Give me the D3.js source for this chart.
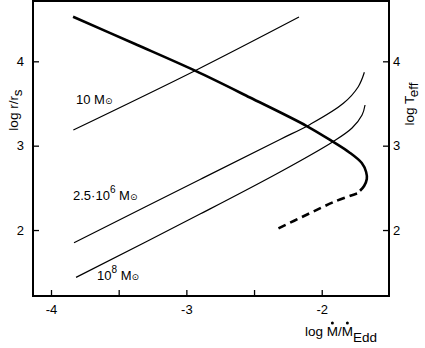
<!DOCTYPE html>
<html>
<head>
<meta charset="utf-8">
<script src="https://cdn.jsdelivr.net/npm/d3@7"></script>
<style>
  body { margin: 0; background: #fff; }
  text { font-family: "Liberation Sans", Arial, "DejaVu Sans", sans-serif; fill: #000; }
</style>
</head>
<body>
<script>
// ticks on the axes
var xTicks = [-4, -3.5, -3, -2.5, -2];
var yTicks = [2, 3, 4];        // log r/rs, left
var tTicks = [2, 3, 4];        // log Teff, right (same places)

// curves, [log Mdot/MdotEdd, log r/rs]
var thick = [[-3.837, 4.529], [-3.387, 4.211], [-2.936, 3.889], [-2.530, 3.571], [-2.111, 3.233],
             [-1.917, 3.047], [-1.798, 2.923], [-1.704, 2.794], [-1.672, 2.688], [-1.667, 2.605],
             [-1.687, 2.522], [-1.717, 2.466]];
var dashed = [[-1.739, 2.433], [-1.90, 2.34], [-2.10, 2.19], [-2.345, 2.000]];
var tenSun = [[-3.835, 3.186], [-2.936, 3.889], [-2.168, 4.525]];
var midMass = [[-3.830, 1.849], [-2.899, 2.599], [-2.308, 3.074], [-2.086, 3.252], [-1.840, 3.502], [-1.730, 3.699], [-1.685, 3.870]];
var bigMass = [[-3.815, 1.439], [-2.899, 2.189], [-2.308, 2.688], [-1.917, 3.047], [-1.776, 3.209], [-1.702, 3.363], [-1.680, 3.482]];

var W = 425, H = 348;
var box = {left: 33, right: 389, top: 1, bottom: 296}; // plot frame in px

var svg = d3.select('body').append('svg')
  .attr('width', W).attr('height', H);

var x = d3.scaleLinear().domain([-4.133, -1.503]).range([box.left, box.right]);
var y = d3.scaleLinear().domain([1.218, 4.715]).range([box.bottom, box.top]);

var line = d3.line()
  .x(function (d) { return x(d[0]); })
  .y(function (d) { return y(d[1]); })
  .curve(d3.curveCatmullRom.alpha(0.5));

// axes, ticks pointing inwards
var xAxis = svg.append('g').attr('transform', 'translate(0,' + box.bottom + ')')
  .call(d3.axisBottom(x).tickValues(xTicks).tickSize(-6).tickPadding(9)
    .tickFormat(function (d) { return d % 1 === 0 ? d : ''; }));
var yAxis = svg.append('g').attr('transform', 'translate(' + box.left + ',0)')
  .call(d3.axisLeft(y).tickValues(yTicks).tickSize(-6).tickPadding(9).tickFormat(d3.format('d')));
var tAxis = svg.append('g').attr('transform', 'translate(' + box.right + ',0)')
  .call(d3.axisRight(y).tickValues(tTicks).tickSize(-6).tickPadding(4).tickFormat(d3.format('d')));

[xAxis, yAxis, tAxis].forEach(function (g) {
  g.select('.domain').remove();
  g.selectAll('line').attr('stroke', '#000').attr('stroke-width', 1.3);
  g.selectAll('text').style('font-size', '13px').attr('font-family', null);
});

// frame
svg.append('rect')
  .attr('x', box.left).attr('y', box.top)
  .attr('width', box.right - box.left).attr('height', box.bottom - box.top)
  .attr('fill', 'none').attr('stroke', '#000').attr('stroke-width', 2);

// curves
[tenSun, midMass, bigMass].forEach(function (s) {
  svg.append('path').datum(s).attr('d', line)
    .attr('fill', 'none').attr('stroke', '#000').attr('stroke-width', 1.2);
});
svg.append('path').datum(thick).attr('d', line)
  .attr('fill', 'none').attr('stroke', '#000').attr('stroke-width', 2.6);
svg.append('path').datum(dashed).attr('d', line)
  .attr('fill', 'none').attr('stroke', '#000').attr('stroke-width', 2.6)
  .attr('stroke-dasharray', '8,5');

// curve labels
function massLabel(px, py, base, sup) {
  var t = svg.append('text').attr('x', px).attr('y', py).style('font-size', '13px');
  t.append('tspan').text(base);
  if (sup) {
    t.append('tspan').attr('dy', -7).style('font-size', '10px').text(sup);
    t.append('tspan').attr('dy', 7).text(' M');
  } else {
    t.append('tspan').text(' M');
  }
  t.append('tspan').style('font-size', '9px').attr('font-family', 'DejaVu Sans').text('\u2299');
}
massLabel(76, 104, '10', null);
massLabel(73, 200, '2.5\u00b710', '6');
massLabel(97, 280, '10', '8');

// axis titles
var lt = svg.append('text').attr('text-anchor', 'middle')
  .attr('transform', 'translate(18,110) rotate(-90)').style('font-size', '13.5px');
lt.append('tspan').text('log r/r');
lt.append('tspan').attr('dy', 4).text('s');

var rt = svg.append('text').attr('text-anchor', 'middle')
  .attr('transform', 'translate(414,104) rotate(-90)').style('font-size', '13.5px');
rt.append('tspan').text('log T');
rt.append('tspan').attr('dy', 4).text('eff');

var xt = svg.append('text').attr('x', 305).attr('y', 336).style('font-size', '13.5px');
xt.append('tspan').text('log M/M');
xt.append('tspan').attr('dy', 6).text('Edd');
// the dots over both M's (Mdot)
[4, 6].forEach(function (i) {
  var e = xt.node().getExtentOfChar(i);
  svg.append('circle')
    .attr('cx', e.x + e.width / 2).attr('cy', 336 - 13)
    .attr('r', 1.5).attr('fill', '#000');
});
</script>
</body>
</html>
